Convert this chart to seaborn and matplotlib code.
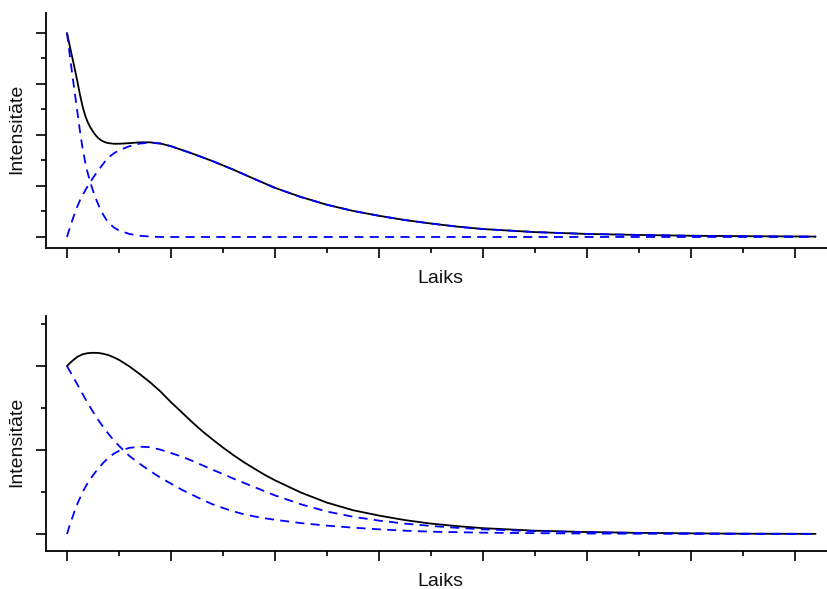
import matplotlib
matplotlib.use("Agg")
import matplotlib.pyplot as plt
from matplotlib.ticker import MultipleLocator
import seaborn as sns
import pandas as pd

# ---- data ----
t_top = [0, 0.025, 0.05, 0.075, 0.1, 0.125, 0.15, 0.175, 0.2, 0.225, 0.25, 0.275,
         0.3, 0.325, 0.35, 0.375, 0.4, 0.45, 0.5, 0.6, 0.7, 0.8, 0.9, 1.0,
         1.2, 1.4, 1.6, 1.8, 2.0, 2.25, 2.5, 2.75, 3.0, 3.25, 3.5, 3.75, 4.0, 4.5,
         5.0, 5.5, 6.0, 6.5, 7.2]
top_a = [1.0, 0.898, 0.80, 0.706, 0.612, 0.517, 0.435, 0.367, 0.312, 0.267, 0.227,
         0.191, 0.16, 0.132, 0.108, 0.087, 0.07, 0.047, 0.032, 0.015, 0.006, 0.002,
         0.0, 0.0, 0.0, 0.0, 0.0, 0.0, 0.0, 0.0, 0.0, 0.0, 0.0, 0.0, 0.0, 0.0, 0.0,
         0.0, 0.0, 0.0, 0.0, 0.0, 0.0]
top_b = [0.0, 0.042, 0.08, 0.117, 0.15, 0.18, 0.205, 0.228, 0.25, 0.27, 0.29, 0.308,
         0.325, 0.343, 0.36, 0.376, 0.39, 0.41, 0.425, 0.445, 0.458, 0.462, 0.458,
         0.445, 0.41, 0.372, 0.33, 0.285, 0.241, 0.196, 0.158, 0.128, 0.104, 0.083,
         0.066, 0.051, 0.039, 0.024, 0.015, 0.01, 0.006, 0.004, 0.002]
top_sum = [1.0, 0.94, 0.882, 0.823, 0.762, 0.697, 0.64, 0.595, 0.562, 0.537, 0.517,
           0.499, 0.485, 0.475, 0.468, 0.463, 0.46, 0.457, 0.457, 0.46, 0.464, 0.464,
           0.458, 0.445, 0.41, 0.372, 0.33, 0.285, 0.241, 0.196, 0.158, 0.128, 0.104,
           0.083, 0.066, 0.051, 0.039, 0.024, 0.015, 0.01, 0.006, 0.004, 0.002]

t_bot = [0, 0.025, 0.05, 0.075, 0.1, 0.15, 0.2, 0.25, 0.3, 0.35, 0.4, 0.45, 0.5,
         0.6, 0.7, 0.8, 0.9, 1.0, 1.1, 1.2, 1.3, 1.4, 1.5, 1.6, 1.7, 1.8, 1.9, 2.0,
         2.25, 2.5, 2.75, 3.0, 3.25, 3.5, 3.75, 4.0, 4.5, 5.0, 5.5, 6.0, 6.5, 7.2]
bot_a = [1.0, 0.972, 0.945, 0.917, 0.89, 0.834, 0.778, 0.728, 0.679, 0.636, 0.595,
         0.558, 0.525, 0.465, 0.418, 0.375, 0.335, 0.30, 0.265, 0.235, 0.205, 0.177,
         0.155, 0.135, 0.118, 0.105, 0.094, 0.085, 0.065, 0.05, 0.038, 0.028, 0.02,
         0.014, 0.011, 0.008, 0.005, 0.003, 0.002, 0.001, 0.0005, 0.0]
bot_b = [0.0, 0.05, 0.095, 0.14, 0.18, 0.25, 0.305, 0.35, 0.39, 0.425, 0.455, 0.478,
         0.495, 0.513, 0.52, 0.517, 0.502, 0.482, 0.462, 0.437, 0.41, 0.383, 0.357,
         0.33, 0.305, 0.28, 0.255, 0.23, 0.177, 0.134, 0.103, 0.08, 0.062, 0.048,
         0.037, 0.028, 0.017, 0.011, 0.006, 0.004, 0.002, 0.001]
bot_sum = [1.0, 1.016, 1.03, 1.043, 1.055, 1.07, 1.077, 1.079, 1.078, 1.073, 1.065,
           1.052, 1.037, 0.998, 0.952, 0.903, 0.848, 0.785, 0.727, 0.668, 0.613,
           0.563, 0.515, 0.47, 0.428, 0.39, 0.353, 0.32, 0.247, 0.187, 0.142, 0.11,
           0.083, 0.062, 0.047, 0.035, 0.02, 0.012, 0.007, 0.004, 0.002, 0.001]

x_label = "Laiks"
y_label = "Intensitāte"

# ---- style ----
sns.set_style("ticks")
plt.rcParams['font.family'] = ['Liberation Sans', 'DejaVu Sans']

fig = plt.figure(figsize=(8.27, 5.89), dpi=100)
ax_top = fig.add_axes([46 / 827, 1 - 248 / 589, 781 / 827, 235 / 589])
ax_bot = fig.add_axes([46 / 827, 1 - 551 / 589, 781 / 827, 235 / 589])

dash = (0, (5, 3.5))
LW = 1.3


def draw(ax, t, a, b, s, ylim, major, minor, ylab_y):
    df = pd.DataFrame({"t": t, "a": a, "b": b, "s": s})
    sns.lineplot(data=df, x="t", y="s", ax=ax, color="black", linewidth=LW,
                 estimator=None, sort=False)
    sns.lineplot(data=df, x="t", y="a", ax=ax, color="#0000ff", linewidth=LW,
                 linestyle=dash, estimator=None, sort=False)
    sns.lineplot(data=df, x="t", y="b", ax=ax, color="#0000ff", linewidth=LW,
                 linestyle=dash, estimator=None, sort=False)
    ax.set_xlim(-0.202, 7.31)
    ax.set_ylim(*ylim)
    ax.xaxis.set_major_locator(MultipleLocator(1))
    ax.xaxis.set_minor_locator(MultipleLocator(0.5))
    ax.yaxis.set_major_locator(MultipleLocator(major))
    ax.yaxis.set_minor_locator(MultipleLocator(minor))
    ax.tick_params(which="major", direction="out", length=7, width=1.2,
                   color="black", labelbottom=False, labelleft=False)
    ax.tick_params(which="minor", direction="out", length=3.5, width=1.2,
                   color="black")
    sns.despine(ax=ax)
    for sp in ("left", "bottom"):
        ax.spines[sp].set_linewidth(1.3)
        ax.spines[sp].set_color("black")
    ax.set_xlabel(x_label, fontsize=14, color="#111111")
    ax.set_ylabel(y_label, fontsize=14, color="#111111")
    ax.xaxis.set_label_coords(0.505, -0.093)
    ax.yaxis.set_label_coords(-0.026, ylab_y)
    ax.set_facecolor("white")


draw(ax_top, t_top, top_a, top_b, top_sum, (-0.054, 1.098), 0.25, 0.125, 0.506)
draw(ax_bot, t_bot, bot_a, bot_b, bot_sum, (-0.101, 1.298), 0.5, 0.25, 0.464)

fig.savefig("out.png", dpi=100, facecolor="white")
